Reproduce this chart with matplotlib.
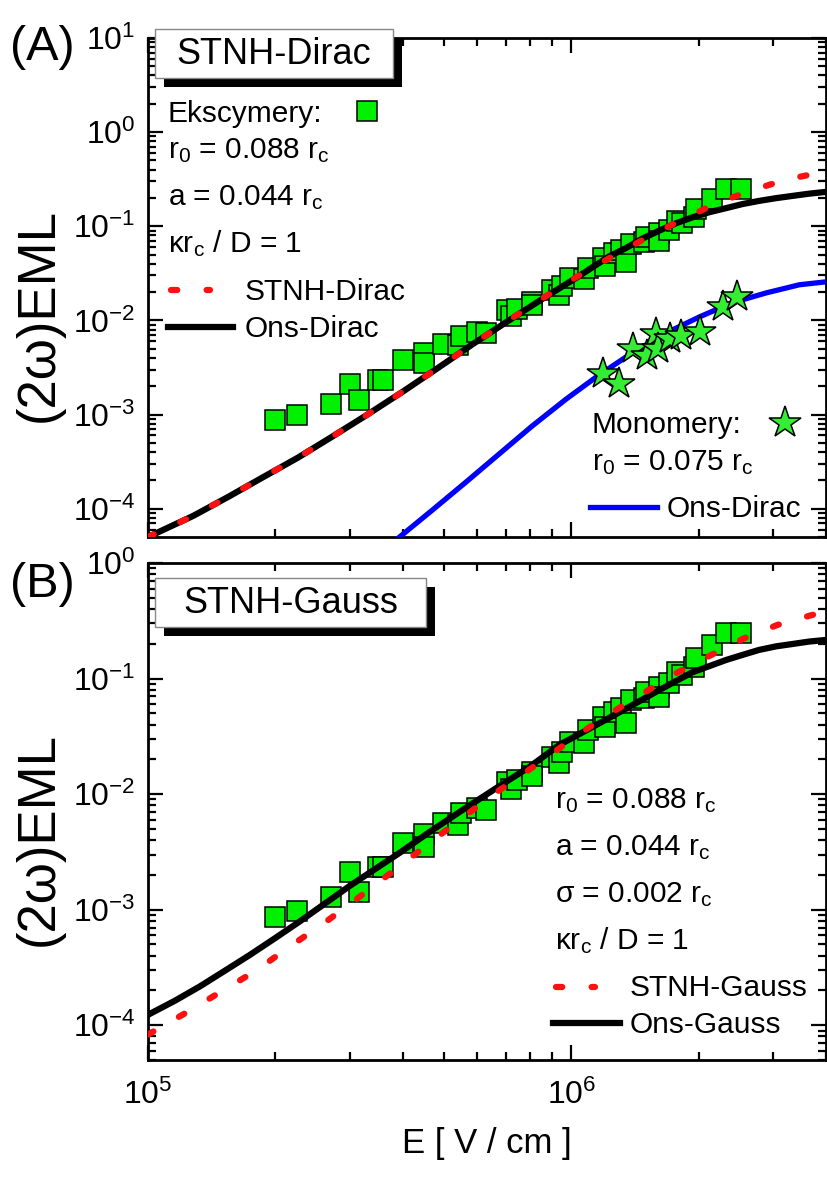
import math
import matplotlib
matplotlib.use('Agg')
import matplotlib.pyplot as plt
from matplotlib.ticker import LogLocator, FuncFormatter, NullFormatter
from matplotlib.patches import Rectangle
from matplotlib.lines import Line2D

plt.rcParams['font.family'] = ['Liberation Sans', 'DejaVu Sans']
plt.rcParams['mathtext.fontset'] = 'custom'
plt.rcParams['mathtext.rm'] = 'Liberation Sans'
plt.rcParams['mathtext.it'] = 'Liberation Sans:italic'
plt.rcParams['axes.unicode_minus'] = False

# --- data ---
# excimers (squares), same data in both panels
exc_E = [2.0e5, 2.25e5, 2.70e5, 3.0e5, 3.15e5, 3.49e5, 3.59e5, 4.0e5, 4.48e5, 4.48e5,
         4.99e5, 5.39e5, 5.48e5, 5.98e5, 6.28e5, 7.04e5, 7.19e5, 7.43e5, 8.06e5, 8.1e5,
         9.03e5, 9.38e5, 9.49e5, 9.91e5, 1.075e6, 1.093e6, 1.186e6, 1.20e6, 1.265e6, 1.314e6,
         1.35e6, 1.388e6, 1.489e6, 1.505e6, 1.616e6, 1.616e6, 1.706e6, 1.782e6, 1.831e6, 1.954e6,
         1.976e6, 2.156e6, 2.325e6, 2.52e6]
exc_Y = [8.7e-4, 9.8e-4, 1.29e-3, 2.12e-3, 1.43e-3, 2.35e-3, 2.35e-3, 3.78e-3, 4.53e-3, 3.49e-3,
         5.63e-3, 5.42e-3, 6.88e-3, 7.6e-3, 7.3e-3, 1.28e-2, 1.11e-2, 1.33e-2, 1.56e-2, 1.44e-2,
         2.10e-2, 1.86e-2, 2.32e-2, 2.83e-2, 2.77e-2, 3.59e-2, 4.65e-2, 3.81e-2, 5.14e-2, 5.57e-2,
         4.13e-2, 6.53e-2, 6.79e-2, 7.66e-2, 8.46e-2, 6.93e-2, 9.16e-2, 0.114, 0.107, 0.126,
         0.151, 0.195, 0.248, 0.248]

# monomers (stars), panel A
mono_E = [1.186e6, 1.30e6, 1.40e6, 1.51e6, 1.59e6, 1.60e6, 1.71e6, 1.82e6, 2.01e6, 2.28e6, 2.47e6]
mono_Y = [2.72e-3, 2.13e-3, 5.0e-3, 4.2e-3, 7.2e-3, 5.0e-3, 6.4e-3, 6.9e-3, 7.6e-3, 1.39e-2, 1.78e-2]

# panel A curves
stnh_dirac_E = [1.0e5, 1.28e5, 1.55e5, 1.86e5, 2.26e5, 2.72e5, 3.29e5, 4.0e5, 4.81e5, 5.82e5,
                7.03e5, 8.51e5, 1.03e6, 1.245e6, 1.506e6, 1.82e6, 2.19e6, 2.65e6, 3.2e6, 3.84e6, 4.0e6]
stnh_dirac_Y = [5.0e-5, 8.4e-5, 1.34e-4, 2.13e-4, 3.48e-4, 5.8e-4, 9.9e-4, 1.75e-3, 3.06e-3, 5.5e-3,
                9.67e-3, 1.69e-2, 2.9e-2, 4.73e-2, 7.53e-2, 0.117, 0.173, 0.238, 0.311, 0.369, 0.38]
ons_dirac_E = [1.0e5, 1.28e5, 1.55e5, 1.86e5, 2.26e5, 2.72e5, 3.29e5, 4.0e5, 4.81e5, 5.82e5,
               7.03e5, 8.51e5, 1.03e6, 1.231e6, 1.35e6, 1.473e6, 1.616e6, 1.772e6, 1.93e6, 2.12e6,
               2.325e6, 2.537e6, 2.78e6, 3.05e6, 3.33e6, 3.65e6, 4.0e6]
ons_dirac_Y = [5.0e-5, 8.4e-5, 1.34e-4, 2.13e-4, 3.48e-4, 5.8e-4, 9.9e-4, 1.75e-3, 3.06e-3, 5.5e-3,
               9.6e-3, 1.67e-2, 2.85e-2, 4.8e-2, 5.9e-2, 7.4e-2, 9.0e-2, 0.108, 0.124, 0.141,
               0.156, 0.172, 0.186, 0.199, 0.21, 0.222, 0.232]
mono_dirac_E = [3.93e5, 4.71e5, 5.66e5, 6.77e5, 8.1e5, 9.75e5, 1.166e6, 1.395e6, 1.68e6,
                2.01e6, 2.4e6, 2.89e6, 3.46e6, 4.0e6]
mono_dirac_Y = [5.0e-5, 9.75e-5, 1.94e-4, 3.84e-4, 7.6e-4, 1.47e-3, 2.65e-3, 4.53e-3, 7.39e-3,
                1.09e-2, 1.54e-2, 1.96e-2, 2.39e-2, 2.57e-2]

# panel B curves
stnh_gauss_E = [1.0e5, 1.229e5, 1.487e5, 1.798e5, 2.175e5, 2.63e5, 3.16e5, 3.83e5, 4.6e5, 5.57e5,
                6.74e5, 8.19e5, 9.85e5, 1.186e6, 1.434e6, 1.734e6, 2.1e6, 2.54e6, 3.07e6, 3.71e6, 4.0e6]
stnh_gauss_Y = [8.3e-5, 1.28e-4, 1.95e-4, 2.96e-4, 4.86e-4, 7.84e-4, 1.29e-3, 2.21e-3, 3.71e-3, 6.35e-3,
                1.07e-2, 1.75e-2, 2.83e-2, 4.56e-2, 6.93e-2, 0.107, 0.154, 0.22, 0.291, 0.355, 0.377]
ons_gauss_E = [1.0e5, 1.158e5, 1.327e5, 1.519e5, 1.741e5, 1.994e5, 2.285e5, 3.0e5, 3.93e5, 4.63e5,
               5.54e5, 6.66e5, 7.97e5, 9.38e5, 1.123e6, 1.35e6, 1.616e6, 1.93e6, 2.325e6, 2.537e6,
               2.78e6, 3.05e6, 3.33e6, 3.65e6, 4.0e6]
ons_gauss_Y = [1.23e-4, 1.63e-4, 2.17e-4, 2.96e-4, 4.06e-4, 5.65e-4, 7.92e-4, 1.61e-3, 3.1e-3, 4.71e-3,
               7.3e-3, 1.13e-2, 1.72e-2, 2.67e-2, 3.81e-2, 5.51e-2, 7.96e-2, 0.113, 0.145, 0.16,
               0.177, 0.19, 0.199, 0.209, 0.216]

W, H = 827, 1180
GREEN = '#00f000'
STAR_GREEN = '#33ee33'
RED = '#ff1010'
BLUE = '#0000ff'
dots = (0, (1.0, 4.7))

fig = plt.figure(figsize=(W / 100, H / 100), dpi=100)


def fx(px):
    return px / W


def fy(py):
    return 1 - py / H


def add_axes(top, bottom):
    return fig.add_axes([fx(148), fy(bottom), fx(826) - fx(148), fy(top) - fy(bottom)])


axA = add_axes(38, 537)
axB = add_axes(563, 1060)


def log_label(v, pos):
    return r'$\mathregular{10^{%d}}$' % round(math.log10(v))


for ax in (axA, axB):
    ax.set_xscale('log')
    ax.set_yscale('log')
    ax.set_xlim(1e5, 4e6)
    for s in ax.spines.values():
        s.set_linewidth(2)
    ax.tick_params(which='both', direction='in', top=True, right=True, width=1.6)
    ax.tick_params(which='major', length=11, labelsize=23)
    ax.tick_params(which='minor', length=6)
    ax.tick_params(axis='y', pad=9)
    ax.tick_params(axis='x', pad=14)
    ax.xaxis.set_major_locator(LogLocator(base=10))
    ax.xaxis.set_minor_locator(LogLocator(base=10, subs=range(2, 10)))
    ax.yaxis.set_major_locator(LogLocator(base=10, numticks=12))
    ax.yaxis.set_minor_locator(LogLocator(base=10, subs=range(2, 10), numticks=12))
    ax.yaxis.set_major_formatter(FuncFormatter(log_label))
    ax.xaxis.set_major_formatter(FuncFormatter(log_label))
    ax.xaxis.set_minor_formatter(NullFormatter())
    ax.yaxis.set_minor_formatter(NullFormatter())

axA.set_ylim(5e-5, 10)
axB.set_ylim(5e-5, 1)
axA.tick_params(axis='x', labelbottom=False)

sq = dict(marker='s', ms=15, mfc=GREEN, mec='black', mew=1.1, ls='none')
star = dict(marker='*', ms=24, mfc=STAR_GREEN, mec='black', mew=1.1, ls='none')
red_dots = dict(color=RED, lw=4.5, ls=dots, dash_capstyle='round')

# panel A
axA.plot(exc_E, exc_Y, zorder=2, **sq)
axA.plot(ons_dirac_E, ons_dirac_Y, color='black', lw=4.5, zorder=3)
axA.plot(stnh_dirac_E, stnh_dirac_Y, zorder=4, **red_dots)
axA.plot(mono_dirac_E, mono_dirac_Y, color=BLUE, lw=3.8, zorder=3)
axA.plot(mono_E, mono_Y, zorder=5, **star)

# panel B
axB.plot(exc_E, exc_Y, zorder=2, **sq)
axB.plot(ons_gauss_E, ons_gauss_Y, color='black', lw=4.5, zorder=3)
axB.plot(stnh_gauss_E, stnh_gauss_Y, zorder=4, **red_dots)

axB.set_xlabel('E [ V / cm ]', fontsize=25, labelpad=12)

# y labels and panel letters
for yc in (315, 839):
    fig.text(fx(39), fy(yc), '(2ω)EML', rotation=90,
             ha='center', va='center', fontsize=38)
fig.text(fx(10), fy(60), '(A)', fontsize=35, va='baseline')
fig.text(fx(10), fy(597), '(B)', fontsize=35, va='baseline')


# title boxes with black drop shadow
def title_box(x0, y0, x1, y1, label):
    fig.add_artist(Rectangle((fx(x0 + 9), fy(y1 + 9)), fx(x1 - x0), fy(y0) - fy(y1),
                             transform=fig.transFigure, facecolor='black',
                             edgecolor='none', zorder=10))
    fig.add_artist(Rectangle((fx(x0), fy(y1)), fx(x1 - x0), fy(y0) - fy(y1),
                             transform=fig.transFigure, facecolor='white',
                             edgecolor='#888888', lw=1, zorder=11))
    fig.text(fx((x0 + x1) / 2), fy((y0 + y1) / 2 + 1), label, fontsize=26,
             ha='center', va='center', zorder=12)


title_box(155, 29, 393, 78, 'STNH-Dirac')
title_box(155, 578, 426, 627, 'STNH-Gauss')

# legend-like text blocks
fs = 21.5


def txt(x, y, s):
    fig.text(fx(x), fy(y), s, fontsize=fs, va='baseline', zorder=12)


def key_line(x0, x1, y, **kw):
    fig.add_artist(Line2D([fx(x0), fx(x1)], [fy(y), fy(y)], transform=fig.transFigure,
                          zorder=12, **kw))


def key_marker(x, y, style):
    fig.add_artist(Line2D([fx(x)], [fy(y)], transform=fig.transFigure, zorder=12, **style))


txt(168, 122, 'Ekscymery:')
key_marker(367, 111, sq)
txt(168, 158, r'r$_\mathregular{0}$ = 0.088 r$_\mathregular{c}$')
txt(168, 205, r'a = 0.044 r$_\mathregular{c}$')
txt(168, 252, r'$\mathregular{\kappa}$r$_\mathregular{c}$ / D = 1')
key_line(171, 210, 290, **red_dots)
txt(245, 300, 'STNH-Dirac')
key_line(168, 233, 327, color='black', lw=4.5)
txt(245, 337, 'Ons-Dirac')

txt(592, 433, 'Monomery:')
key_marker(785, 423, star)
txt(592, 470, r'r$_\mathregular{0}$ = 0.075 r$_\mathregular{c}$')
key_line(590, 657, 507, color=BLUE, lw=3.8)
txt(667, 517, 'Ons-Dirac')

txt(555, 808, r'r$_\mathregular{0}$ = 0.088 r$_\mathregular{c}$')
txt(555, 855, r'a = 0.044 r$_\mathregular{c}$')
txt(555, 902, r'$\mathregular{\sigma}$ = 0.002 r$_\mathregular{c}$')
txt(555, 949, r'$\mathregular{\kappa}$r$_\mathregular{c}$ / D = 1')
key_line(556, 595, 987, **red_dots)
txt(630, 996, 'STNH-Gauss')
key_line(553, 620, 1023, color='black', lw=4.5)
txt(630, 1033, 'Ons-Gauss')

fig.savefig('out.png', dpi=100)
